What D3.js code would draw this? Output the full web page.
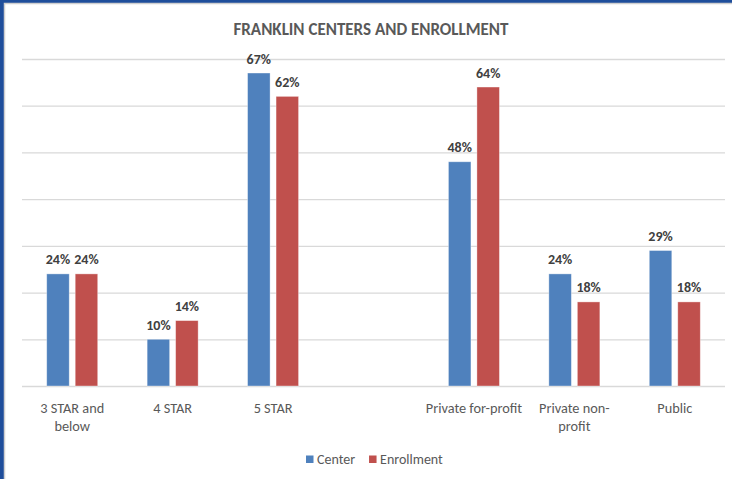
<!DOCTYPE html>
<html>
<head>
<meta charset="utf-8">
<script src="https://cdn.jsdelivr.net/npm/d3@7"></script>
<style>
  html, body { margin: 0; padding: 0; background: #fff; }
  svg { display: block; }
  text { font-family: Carlito, Calibri, Lato, sans-serif; }
</style>
</head>
<body>
<svg id="chart" width="732" height="479"></svg>
<script>
// ---- data ----
const title = "FRANKLIN CENTERS AND ENROLLMENT";
const categories = ["3 STAR and below", "4 STAR", "5 STAR", "", "Private for-profit", "Private non-profit", "Public"];
const categoryLines = [["3 STAR and", "below"], ["4 STAR"], ["5 STAR"], [""], ["Private for-profit"], ["Private non-", "profit"], ["Public"]];
const seriesNames = ["Center", "Enrollment"];
const centerValues = [24, 10, 67, null, 48, 24, 29];
const enrollmentValues = [24, 14, 62, null, 64, 18, 18];
const yTicks = [0, 10, 20, 30, 40, 50, 60, 70];
const colors = ["#4F81BD", "#C0504D"];

// ---- layout ----
const W = 732, H = 479;
const svg = d3.select("#chart");

// frame
svg.append("rect").attr("x", 0).attr("y", 0).attr("width", W).attr("height", H).attr("fill", "#1F4E9B");
svg.append("rect").attr("x", 4.5).attr("y", 3.5).attr("width", W + 10).attr("height", H + 10)
  .attr("fill", "#fff").attr("stroke", "#cfcfcf").attr("stroke-width", 1.5);

const plotL = 22, plotR = 725, plotB = 386, plotT = 59;

const x = d3.scaleBand().domain(categories).range([plotL, plotR]).paddingInner(0).paddingOuter(0);
const x1 = d3.scaleBand().domain(seriesNames).range([-25.5, 25.5]).paddingInner(0.21);
const y = d3.scaleLinear().domain([0, 70]).range([plotB, plotT]);

// gridlines via axis
const yAxis = d3.axisLeft(y).tickValues(yTicks).tickSize(-(plotR - plotL)).tickFormat("");
const gy = svg.append("g").attr("transform", `translate(${plotL},0)`).call(yAxis);
gy.select(".domain").remove();
gy.selectAll(".tick line").attr("stroke", "#d9d9d9").attr("stroke-width", 1.3);

// title
const t = svg.append("text").attr("x", 371).attr("y", 34.5).attr("text-anchor", "middle")
  .attr("fill", "#595959").attr("font-weight", "bold").attr("font-size", 17).text(title);
(function fit(node, target) {
  const w = node.getComputedTextLength();
  const fs = 17 * target / w;
  d3.select(node).attr("font-size", fs.toFixed(2));
})(t.node(), 275);

// bars
const seriesData = [centerValues, enrollmentValues];
seriesData.forEach((vals, si) => {
  const g = svg.append("g");
  const pts = categories.map((c, i) => ({ c, v: vals[i] })).filter(d => d.v != null);
  g.selectAll("rect").data(pts).enter().append("rect")
    .attr("x", d => x(d.c) + x.bandwidth() / 2 + x1(seriesNames[si]))
    .attr("y", d => y(d.v))
    .attr("width", x1.bandwidth())
    .attr("height", d => y(0) - y(d.v))
    .attr("fill", colors[si])
    .attr("stroke", "#ffffff").attr("stroke-opacity", 0.45).attr("stroke-width", 0.8);
  g.selectAll("text").data(pts).enter().append("text")
    .attr("x", d => x(d.c) + x.bandwidth() / 2 + x1(seriesNames[si]) + x1.bandwidth() / 2)
    .attr("y", d => y(d.v) - 9.5)
    .attr("text-anchor", "middle")
    .attr("fill", "#404040").attr("font-weight", "bold").attr("font-size", 14)
    .text(d => d.v + "%");
});

// category labels
const gx = svg.append("g");
categories.forEach((c, i) => {
  const lines = categoryLines[i];
  const tx = gx.append("text").attr("text-anchor", "middle").attr("fill", "#595959").attr("font-size", 14.3);
  lines.forEach((ln, li) => {
    tx.append("tspan").attr("x", x(c) + x.bandwidth() / 2).attr("y", 412.5 + li * 18.5).text(ln);
  });
});

// legend
const lg = svg.append("g");
let lx = 306;
seriesNames.forEach((s, si) => {
  lg.append("rect").attr("x", lx).attr("y", 455.5).attr("width", 7.5).attr("height", 7.5).attr("fill", colors[si]);
  const tt = lg.append("text").attr("x", lx + 11).attr("y", 463.5).attr("fill", "#595959").attr("font-size", 14).text(s);
  lx = lx + 11 + tt.node().getComputedTextLength() + 14;
});
</script>
</body>
</html>
